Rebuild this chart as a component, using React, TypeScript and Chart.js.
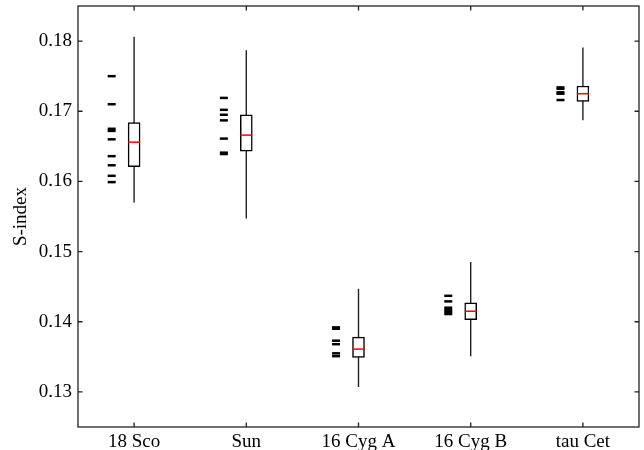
import React, { useEffect, useRef } from "react";
import { Chart, registerables } from "chart.js";

Chart.register(...registerables);

const stars = ["18 Sco", "Sun", "16 Cyg A", "16 Cyg B", "tau Cet"];
const whiskerLow = [0.157, 0.1547, 0.1307, 0.1351, 0.1687];
const whiskerHigh = [0.1806, 0.1787, 0.1447, 0.1485, 0.1791];
const boxLow = [0.1621, 0.1643, 0.1349, 0.1403, 0.1714];
const boxHigh = [0.1684, 0.1695, 0.1378, 0.1427, 0.1736];
const medians = [0.1656, 0.1666, 0.1361, 0.1415, 0.1725];

const obs18Sco = [0.175, 0.171, 0.1675, 0.1672, 0.166, 0.1636, 0.1623, 0.1608, 0.1599];
const obsSun = [0.1719, 0.1702, 0.1695, 0.1687, 0.1661, 0.1641, 0.1639];
const obs16CygA = [0.1392, 0.139, 0.1373, 0.1368, 0.1355, 0.1351];
const obs16CygB = [0.1437, 0.1429, 0.142, 0.1417, 0.1414, 0.1411];
const obsTauCet = [0.1734, 0.1732, 0.1727, 0.1725, 0.1716];
const observations = [obs18Sco, obsSun, obs16CygA, obs16CygB, obsTauCet];

const yTicks = [0.13, 0.14, 0.15, 0.16, 0.17, 0.18];

const OBS_OFFSET = -0.2;
const FONT = { family: "'Liberation Serif', 'Times New Roman', serif", size: 19 };

const framePlugin = {
  id: "frame",
  afterDatasetsDraw(chart: any) {
    const { ctx, chartArea, scales } = chart;
    const { left, right, top, bottom } = chartArea;
    const L = 4.5;
    ctx.save();
    ctx.strokeStyle = "#222";
    ctx.lineWidth = 1.3;
    ctx.strokeRect(left, top, right - left, bottom - top);
    ctx.beginPath();
    scales.x.ticks.forEach((t: any) => {
      const px = scales.x.getPixelForValue(t.value);
      ctx.moveTo(px, bottom);
      ctx.lineTo(px, bottom - L);
      ctx.moveTo(px, top);
      ctx.lineTo(px, top + L);
    });
    scales.y.ticks.forEach((t: any) => {
      const py = scales.y.getPixelForValue(t.value);
      ctx.moveTo(left, py);
      ctx.lineTo(left + L, py);
      ctx.moveTo(right, py);
      ctx.lineTo(right - L, py);
    });
    ctx.stroke();
    ctx.restore();
  },
};

export default function App() {
  const ref = useRef<HTMLCanvasElement>(null);

  useEffect(() => {
    if (!ref.current) return;
    const whiskerData: any[] = [];
    stars.forEach((_, i) => {
      whiskerData.push({ x: i, y: whiskerLow[i] });
      whiskerData.push({ x: i, y: whiskerHigh[i] });
      whiskerData.push({ x: i, y: null });
    });
    const obsData: any[] = [];
    observations.forEach((arr, i) => arr.forEach((v) => obsData.push({ x: i + OBS_OFFSET, y: v })));

    const chart = new Chart(ref.current, {
      type: "bar",
      data: {
        datasets: [
          {
            type: "scatter",
            data: medians.map((m, i) => ({ x: i, y: m })),
            pointStyle: "line",
            pointRadius: 6,
            pointHoverRadius: 6,
            pointBorderColor: "#ff0000",
            pointBorderWidth: 1.5,
            borderColor: "#ff0000",
            order: 0,
          } as any,
          {
            type: "bar",
            data: boxLow.map((a, i) => ({ x: i, y: [a, boxHigh[i]] })),
            backgroundColor: "#ffffff",
            borderColor: "#000000",
            borderWidth: 1.5,
            borderSkipped: false,
            barThickness: 12,
            order: 1,
          } as any,
          {
            type: "line",
            data: whiskerData,
            borderColor: "#222222",
            borderWidth: 1.4,
            pointRadius: 0,
            spanGaps: false,
            order: 2,
          } as any,
          {
            type: "scatter",
            data: obsData,
            pointStyle: "line",
            pointRadius: 4,
            pointHoverRadius: 4,
            pointBorderColor: "#000000",
            pointBorderWidth: 2.5,
            borderColor: "#000000",
            order: 3,
          } as any,
        ],
      },
      options: {
        animation: false,
        responsive: false,
        devicePixelRatio: 1,
        events: [],
        layout: { autoPadding: false, padding: { top: 6, right: 5, left: 0, bottom: 0 } },
        plugins: { legend: { display: false }, tooltip: { enabled: false } },
        scales: {
          x: {
            type: "linear",
            min: -0.5,
            max: 4.5,
            offset: false,
            grid: { display: false, drawTicks: false, offset: false },
            border: { display: false },
            ticks: {
              font: FONT,
              color: "#000",
              padding: 4,
              autoSkip: false,
              maxRotation: 0,
              callback: (v: any) => stars[v] ?? "",
            },
            afterBuildTicks: (s: any) => {
              s.ticks = stars.map((_, i) => ({ value: i }));
            },
            afterFit: (s: any) => {
              s.height = 23;
              s.paddingLeft = 0;
              s.paddingRight = 0;
            },
          },
          y: {
            type: "linear",
            min: 0.125,
            max: 0.185,
            beginAtZero: false,
            grid: { display: false, drawTicks: false },
            border: { display: false },
            ticks: {
              font: FONT,
              color: "#000",
              padding: 6,
              callback: (v: any) => Number(v).toFixed(2),
            },
            afterBuildTicks: (s: any) => {
              s.ticks = yTicks.map((v) => ({ value: v }));
            },
            afterFit: (s: any) => {
              s.width = 78;
              s.paddingTop = 0;
              s.paddingBottom = 0;
            },
            title: {
              display: true,
              text: "S-index",
              font: FONT,
              color: "#000",
              padding: { top: 10, bottom: 0 },
            },
          },
        },
      } as any,
      plugins: [framePlugin],
    });
    return () => chart.destroy();
  }, []);

  return (
    <div style={{ position: "fixed", left: 0, top: 0, width: 644, height: 450, background: "#fff" }}>
      <canvas ref={ref} width={644} height={450} style={{ display: "block" }} />
    </div>
  );
}
